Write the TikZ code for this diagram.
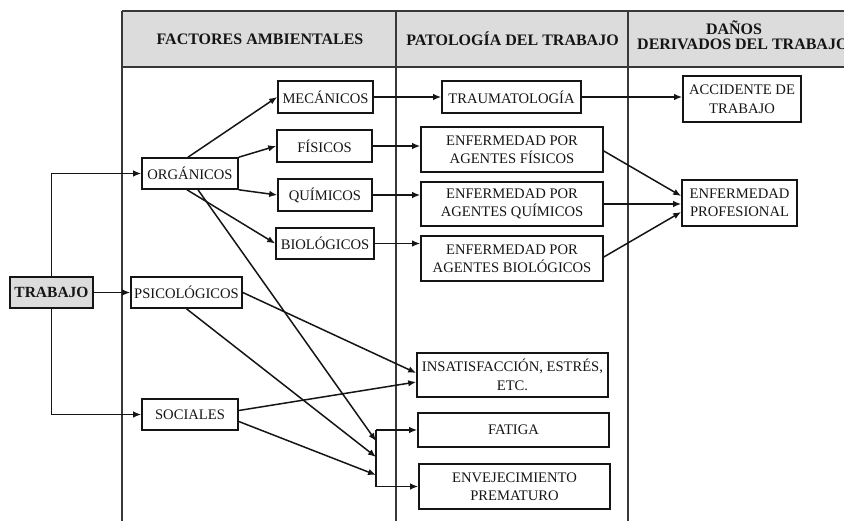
\documentclass[tikz,border=0pt]{standalone}
\usepackage{fontspec}
\setmainfont{Liberation Serif}
\usetikzlibrary{arrows.meta,calc}
\definecolor{hdr}{HTML}{DCDCDC}
\definecolor{ink}{HTML}{151515}
\begin{document}
\begin{tikzpicture}[x=1pt,y=-1pt,
  every node/.style={text=ink},
  box/.style={draw=ink, line width=1.6pt, inner sep=0pt, align=center,
    font=\fontsize{14.6}{18.5}\selectfont},
  hd/.style={font=\fontsize{16}{16}\selectfont\bfseries, inner sep=0pt, align=center},
  arr/.style={draw=ink, line width=1.5pt, -{Latex[length=8pt,width=6.5pt]}},
  ln/.style={draw=ink, line width=1.5pt},
  col/.style={draw=ink!85, line width=1.1pt}]
\useasboundingbox (0,0) rectangle (844,521);
% header
\fill[hdr] (122,11) rectangle (850,67);
\draw[col] (122,11) -- (850,11);
\draw[col] (122,67) -- (850,67);
\draw[col] (122,11) -- (122,521);
\draw[col] (396,11) -- (396,521);
\draw[col] (628,11) -- (628,521);
\node[hd] (h1) at (260,39) {FACTORES AMBIENTALES};
\node[hd] (h2) at (512.5,39) {PATOLOGÍA DEL TRABAJO};
\node[hd] (h3) at (734,28) {DAÑOS};
\node[hd, anchor=west] (h4) at (637,44) {DERIVADOS DEL TRABAJO};
% nodes
\node[box, fill=hdr, minimum width=83pt, minimum height=31pt, font=\fontsize{15.5}{18}\selectfont\bfseries] (trab) at (51.5,292.5) {TRABAJO};
\node[box, minimum width=96pt, minimum height=31pt] (org) at (190,173.5) {ORGÁNICOS};
\node[box, minimum width=111pt, minimum height=31pt] (psi) at (186.5,292.5) {PSICOLÓGICOS};
\node[box, minimum width=96pt, minimum height=31pt] (soc) at (190,414.5) {SOCIALES};
\node[box, minimum width=95pt, minimum height=32pt] (mec) at (325.5,97) {MECÁNICOS};
\node[box, minimum width=95pt, minimum height=32pt] (fis) at (324.5,146) {FÍSICOS};
\node[box, minimum width=94pt, minimum height=32pt] (qui) at (325,195) {QUÍMICOS};
\node[box, minimum width=98pt, minimum height=31pt] (bio) at (325,243.5) {BIOLÓGICOS};
\node[box, minimum width=139pt, minimum height=32pt] (trau) at (511.5,97) {TRAUMATOLOGÍA};
\node[box, minimum width=182pt, minimum height=45pt] (ef) at (512,149.5) {ENFERMEDAD POR\\AGENTES FÍSICOS};
\node[box, minimum width=182pt, minimum height=44pt] (eq) at (512,204) {ENFERMEDAD POR\\AGENTES QUÍMICOS};
\node[box, minimum width=182pt, minimum height=45pt] (eb) at (512,258.5) {ENFERMEDAD POR\\AGENTES BIOLÓGICOS};
\node[box, minimum width=118pt, minimum height=46pt] (acc) at (742,99) {ACCIDENTE DE\\TRABAJO};
\node[box, minimum width=115pt, minimum height=46pt] (ep) at (739.5,203) {ENFERMEDAD\\PROFESIONAL};
\node[box, minimum width=191pt, minimum height=44pt] (ins) at (512.5,375) {INSATISFACCIÓN, ESTRÉS,\\ETC.};
\node[box, minimum width=191pt, minimum height=34pt] (fat) at (513.5,430) {FATIGA};
\node[box, minimum width=191pt, minimum height=45pt] (env) at (514.5,486.5) {ENVEJECIMIENTO\\PREMATURO};
% bracket coordinates
\coordinate (b1) at (376,430);
\coordinate (b2) at (376,486.5);
\coordinate (t1) at (376,441);
\coordinate (t2) at (376,457);
\coordinate (t3) at (376,475);
% connectors
\draw[arr] (trab.north) |- (org.west);
\draw[arr] (trab.south) |- (soc.west);
\draw[arr] (trab.east) -- (psi.west);
\draw[arr] ([xshift=-2pt]org.north) -- (mec.west);
\draw[arr] (org.north east) -- (fis.west);
\draw[arr] (org.south east) -- (qui.west);
\draw[arr] ([xshift=-3pt]org.south) -- (bio.west);
\draw[arr] ([xshift=8pt]org.south) -- (t1);
\draw[arr] (psi.south) -- (t2);
\draw[arr] ([yshift=-7pt]soc.east) -- (t3);
\draw[arr] (psi.east) -- ([yshift=2pt]ins.west);
\draw[arr] ([yshift=4pt]soc.east) -- ([yshift=-7pt]ins.west);
\draw[ln] (b1) -- (b2);
\draw[arr] (b1) -- (b1 -| fat.west);
\draw[arr] (b2) -- (b2 -| env.west);
\draw[arr] (mec.east) -- (trau.west);
\draw[arr] (fis.east) -- (fis.east -| ef.west);
\draw[arr] (qui.east) -- (qui.east -| eq.west);
\draw[arr] (bio.east) -- (bio.east -| eb.west);
\draw[arr] (trau.east) -- (trau.east -| acc.west);
\draw[arr] ([yshift=-1.5pt]ef.east) -- ([yshift=7pt]ep.west);
\draw[arr] (eq.east) -- (eq.east -| ep.west);
\draw[arr] ([yshift=1.5pt]eb.east) -- ([yshift=-9pt]ep.west);
\end{tikzpicture}
\end{document}
